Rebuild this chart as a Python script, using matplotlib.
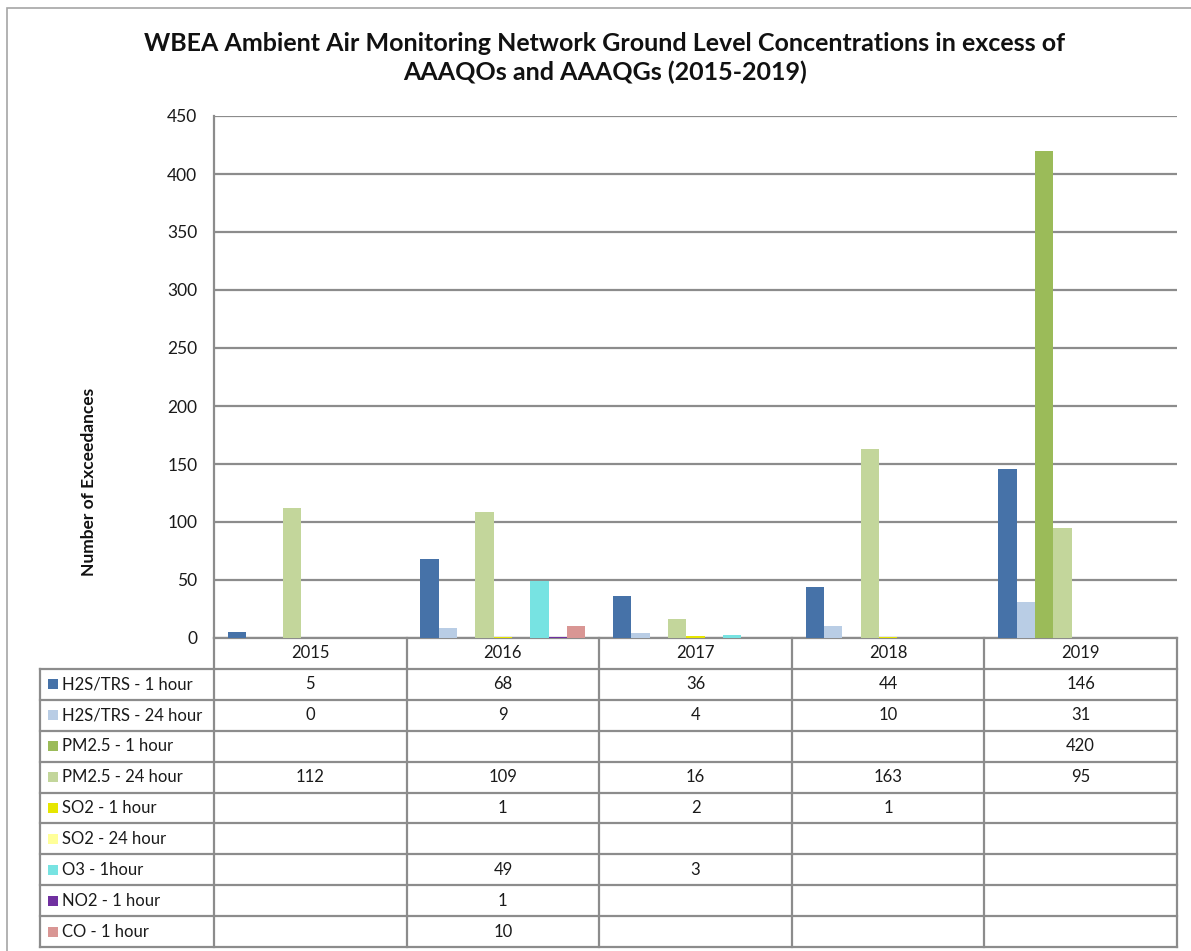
import matplotlib
matplotlib.use("Agg")
import matplotlib.pyplot as plt
import numpy as np
from matplotlib.patches import Rectangle

# ── Data ─────────────────────────────────────────────────────────────────────
years = ["2015", "2016", "2017", "2018", "2019"]
series_names = [
    "H2S/TRS - 1 hour", "H2S/TRS - 24 hour", "PM2.5 - 1 hour", "PM2.5 - 24 hour",
    "SO2 - 1 hour", "SO2 - 24 hour", "O3 - 1hour", "NO2 - 1 hour", "CO - 1 hour",
]
h2s_1h = [5, 68, 36, 44, 146]
h2s_24h = [0, 9, 4, 10, 31]
pm25_1h = [None, None, None, None, 420]
pm25_24h = [112, 109, 16, 163, 95]
so2_1h = [None, 1, 2, 1, None]
so2_24h = [None, None, None, None, None]
o3_1h = [None, 49, 3, None, None]
no2_1h = [None, 1, None, None, None]
co_1h = [None, 10, None, None, None]
series_values = [h2s_1h, h2s_24h, pm25_1h, pm25_24h, so2_1h, so2_24h, o3_1h, no2_1h, co_1h]

colors = ["#4672A8", "#B9CDE5", "#9BBB59", "#C3D69B", "#E6E600",
          "#FFFF99", "#77E3E2", "#7030A0", "#D99694"]

GRID = "#8C8C8C"
TXT = "#1A1A1A"
FONT = ["Lato", "DejaVu Sans"]
plt.rcParams["font.family"] = FONT

W, H = 1191, 951
fig = plt.figure(figsize=(W / 100, H / 100), dpi=100)
fig.patch.set_facecolor("white")

# outer chart border
fig.add_artist(Rectangle((7 / W, -0.01), 1.2, 1 - 8 / H + 0.01, transform=fig.transFigure,
                         fill=False, edgecolor="#A6A6A6", linewidth=1.2))

left, right, top, bottom = 214, 1177, 116, 638
ax = fig.add_axes([left / W, 1 - bottom / H, (right - left) / W, (bottom - top) / H])

n = len(series_names)
bw = 1 / (n + 1.5)
x = np.arange(len(years))
for i, (vals, c) in enumerate(zip(series_values, colors)):
    v = np.array([np.nan if a is None else a for a in vals], dtype=float)
    v[v == 0] = np.nan   # zero bars draw nothing
    ax.bar(x - 0.5 + 0.75 * bw + (i + 0.5) * bw, v, width=bw, color=c,
           edgecolor="none", linewidth=0, zorder=3)

ax.set_xlim(-0.5, len(years) - 0.5)
ax.set_ylim(0, 450)
ax.set_yticks(np.arange(0, 451, 50))
ax.yaxis.grid(True, color=GRID, linewidth=1.6, zorder=0)
ax.set_axisbelow(True)
ax.tick_params(axis="y", length=0, pad=12, labelsize=12.5, labelcolor=TXT)
ax.set_xticks([])
for s in ("top", "right", "bottom"):
    ax.spines[s].set_visible(False)
ax.spines["left"].set_color(GRID)
ax.spines["left"].set_linewidth(1.6)

# ── Data table under the axis ────────────────────────────────────────────────
nrows = n + 1
rh = (947 - bottom) / nrows / (bottom - top)   # row height in axes units
lab_left = (40 - left) / (right - left)        # label column left edge (axes units)
xt = ax.get_xaxis_transform()
lk = dict(color=GRID, linewidth=1.6, clip_on=False, transform=xt, solid_capstyle="projecting")

ax.plot([-0.5, 4.5], [0, 0], **lk)
for k in range(1, nrows + 1):
    ax.plot([lab_left, 1.0], [-k * rh, -k * rh], color=GRID, linewidth=1.6,
            clip_on=False, transform=ax.transAxes, solid_capstyle="projecting")
for b in np.arange(-0.5, len(years), 1.0):
    ax.plot([b, b], [0, -nrows * rh], **lk)
ax.plot([lab_left, lab_left], [-rh, -nrows * rh], color=GRID, linewidth=1.6,
        clip_on=False, transform=ax.transAxes, solid_capstyle="projecting")

for j, yr in enumerate(years):
    ax.text(j, -0.5 * rh, yr, transform=xt, ha="center", va="center",
            fontsize=12, color=TXT)

key_px = 10 / (right - left)
for i, (name, vals, c) in enumerate(zip(series_names, series_values, colors)):
    yc = -(i + 1.5) * rh
    ax.add_patch(Rectangle((lab_left + 8 / (right - left), yc - 5 / (bottom - top)),
                           key_px, 10 / (bottom - top), transform=ax.transAxes,
                           facecolor=c, edgecolor="none", clip_on=False))
    ax.text(lab_left + 22 / (right - left), yc, name, transform=ax.transAxes,
            ha="left", va="center", fontsize=12, color=TXT)
    for j, v in enumerate(vals):
        if v is not None:
            ax.text(j, yc, str(v), transform=xt, ha="center", va="center",
                    fontsize=12, color=TXT)

fig.text(89 / W, 1 - 482 / H, "Number of Exceedances", rotation=90, ha="center",
         va="center", fontsize=12.5, fontweight="bold", color="#111111")
fig.text(605 / W, 1 - 58 / H,
         "WBEA Ambient Air Monitoring Network Ground Level Concentrations in excess of\n"
         "AAAQOs and AAAQGs (2015-2019)",
         ha="center", va="center", fontsize=18, fontweight="bold", color="#111111",
         linespacing=1.3)

fig.savefig("out.png", dpi=100, facecolor="white")
